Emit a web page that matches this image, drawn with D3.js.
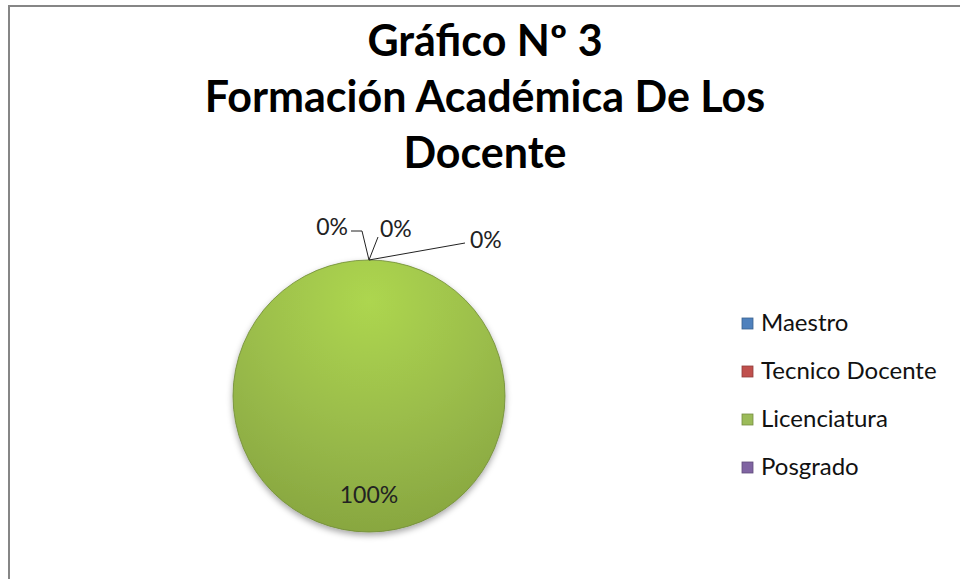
<!DOCTYPE html>
<html>
<head>
<meta charset="UTF-8">
<style>
  body { margin: 0; background: #fff; }
  .title text { font: bold 43px Lato, sans-serif; text-anchor: middle; fill: #000; }
  .lbl { font: 23px Lato, sans-serif; fill: #222; }
  .legend text { font: 24px Lato, sans-serif; fill: #111; }
</style>
<script src="https://cdn.jsdelivr.net/npm/d3@7"></script>
</head>
<body>
<script>
// datos del grafico
var categorias = ["Maestro", "Tecnico Docente", "Licenciatura", "Posgrado"];
var valores = [0, 0, 100, 0];
var colores = ["#4F81BD", "#C0504D", "#9BBB59", "#8064A2"];
var titulo = ["Gráfico Nº 3", "Formación Académica De Los", "Docente"];

var width = 960, height = 579;
var cx = 369, cy = 396, radius = 136;

var svg = d3.select("body").append("svg")
    .attr("width", width)
    .attr("height", height);

// borde del area del grafico
svg.append("path")
    .attr("d", "M9,579 L9,6 L960,6")
    .attr("fill", "none")
    .attr("stroke", "#868686")
    .attr("stroke-width", 2);

var defs = svg.append("defs");
var grad = defs.append("radialGradient")
    .attr("id", "verde")
    .attr("cx", "50%").attr("cy", "15%").attr("r", "90%");
grad.append("stop").attr("offset", "0%").attr("stop-color", "#add64f");
grad.append("stop").attr("offset", "50%").attr("stop-color", "#9bbd4b");
grad.append("stop").attr("offset", "100%").attr("stop-color", "#86a43f");

var sombra = defs.append("filter").attr("id", "sombra")
    .attr("x", "-20%").attr("y", "-20%").attr("width", "140%").attr("height", "140%");
sombra.append("feDropShadow")
    .attr("dx", 0).attr("dy", 3).attr("stdDeviation", 3)
    .attr("flood-color", "#000").attr("flood-opacity", 0.35);

// titulo
svg.append("g").attr("class", "title")
  .selectAll("text")
  .data(titulo)
  .enter().append("text")
    .attr("x", 485)
    .attr("y", function(d, i) { return 56 + i * 56; })
    .text(function(d) { return d; });

var pie = d3.pie().sort(null).value(function(d) { return d; });
var arcs = pie(valores);

var arc = d3.arc().innerRadius(0).outerRadius(radius);

var g = svg.append("g").attr("transform", "translate(" + cx + "," + cy + ")");

g.selectAll("path.slice")
  .data(arcs.filter(function(d) { return d.value > 0; }))
  .enter().append("path")
    .attr("class", "slice")
    .attr("d", arc)
    .attr("fill", "url(#verde)")
    .attr("stroke", "#6f8a33")
    .attr("stroke-width", 0.8)
    .attr("filter", "url(#sombra)");

// etiquetas: 100% dentro, 0% con lineas guia
var total = d3.sum(valores);
var fmt = function(v) { return Math.round(v / total * 100) + "%"; };

var labelArc = d3.arc().innerRadius(radius * 0.72).outerRadius(radius * 0.72);
arcs.forEach(function(d, i) {
  if (d.value > 0) {
    var c = labelArc.centroid(d);
    g.append("text").attr("class", "lbl")
      .attr("x", c[0]).attr("y", c[1] + 9)
      .attr("text-anchor", "middle")
      .text(fmt(d.value));
  }
});

// posiciones de las etiquetas de 0% (evitando colision)
var guias = [
  { i: 0, pts: [[-7, -29], [-18, -29]], tx: -21, ty: -33, anchor: "end" },
  { i: 1, pts: [[9, -23]], tx: 11, ty: -31, anchor: "start" },
  { i: 3, pts: [[96, -17]], tx: 101, ty: -20, anchor: "start" }
];
var outer = d3.arc().innerRadius(radius).outerRadius(radius);
guias.forEach(function(q) {
  var d = arcs[q.i];
  var p0 = outer.centroid(d);
  var line = [p0].concat(q.pts.map(function(p) { return [p0[0] + p[0], p0[1] + p[1]]; }));
  g.append("path")
    .attr("d", d3.line()(line))
    .attr("fill", "none")
    .attr("stroke", "#222")
    .attr("stroke-width", 1);
  g.append("text").attr("class", "lbl")
    .attr("x", p0[0] + q.tx).attr("y", p0[1] + q.ty)
    .attr("text-anchor", q.anchor)
    .attr("dy", "0.35em")
    .text(fmt(d.value));
});

// leyenda
var legend = svg.append("g").attr("class", "legend")
  .selectAll("g")
  .data(categorias)
  .enter().append("g")
    .attr("transform", function(d, i) { return "translate(742," + (323 + i * 48) + ")"; });

legend.append("rect")
    .attr("x", 0).attr("y", -5)
    .attr("width", 11).attr("height", 11)
    .attr("fill", function(d, i) { return colores[i]; })
    .attr("stroke", function(d, i) { return d3.color(colores[i]).darker(0.8); })
    .attr("stroke-width", 0.8);

legend.append("text")
    .attr("x", 19)
    .attr("y", 0)
    .attr("dy", "0.35em")
    .text(function(d) { return d; });
</script>
</body>
</html>
